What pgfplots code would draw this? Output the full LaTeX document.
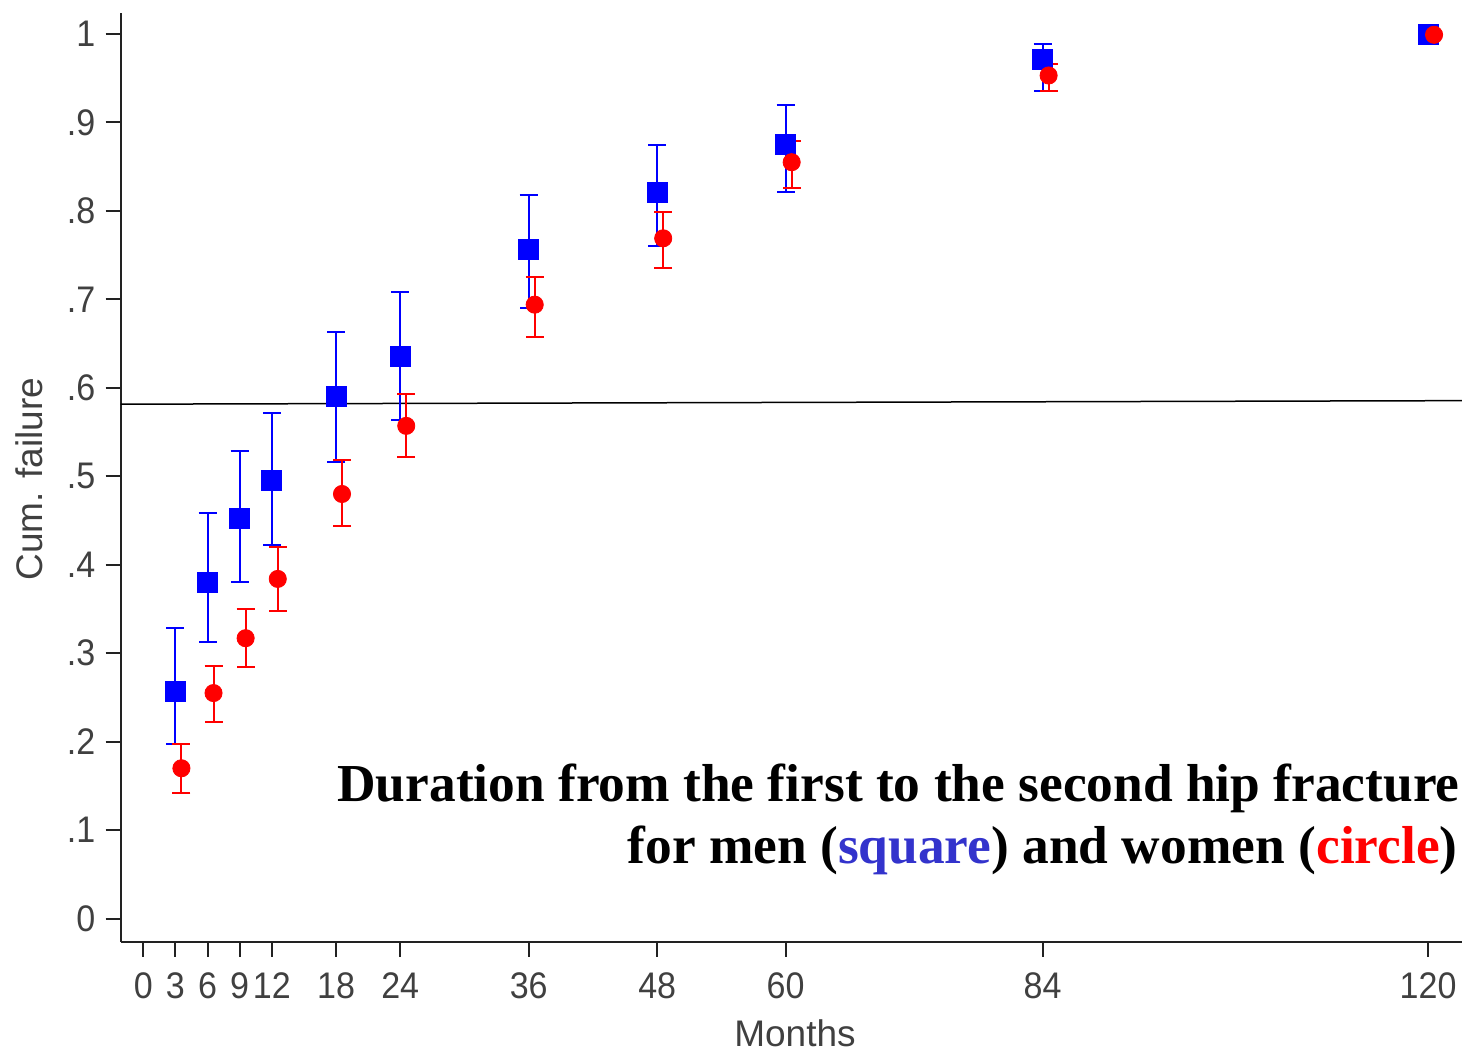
\documentclass[border=0pt]{standalone}
\usepackage{fontspec}
\setmainfont{Liberation Serif}
\newfontfamily\sansf{Liberation Sans}
\newfontfamily\sansn[FakeStretch=0.92]{Liberation Sans}
\usepackage{pgfplots}
\usepackage{pgfplotstable}
\pgfplotsset{compat=1.18}

\definecolor{sqblue}{RGB}{0,0,255}
\definecolor{cired}{RGB}{255,0,0}
\definecolor{txtblue}{RGB}{51,51,204}
\definecolor{axgray}{RGB}{34,34,34}

% men (squares): month, cum. failure, lower and upper limit
\pgfplotstableread{
x y lo hi
3 0.257 0.197 0.329
6 0.380 0.313 0.459
9 0.452 0.380 0.529
12 0.495 0.422 0.572
18 0.590 0.516 0.663
24 0.636 0.564 0.708
36 0.757 0.690 0.818
48 0.821 0.760 0.875
60 0.875 0.821 0.920
84 0.971 0.936 0.989
120 1.000 1.000 1.000
}\men

% women (circles), drawn a little to the right of the month
\pgfplotstableread{
x y lo hi
3.56 0.170 0.142 0.197
6.56 0.255 0.222 0.286
9.56 0.317 0.284 0.350
12.56 0.384 0.348 0.420
18.56 0.480 0.444 0.518
24.56 0.557 0.522 0.593
36.56 0.694 0.658 0.725
48.56 0.769 0.735 0.799
60.56 0.855 0.826 0.879
84.56 0.953 0.936 0.966
120.56 0.999 0.999 0.999
}\women

\newcommand{\tickfont}{\sansn\fontsize{18.5}{22}\selectfont}
\newcommand{\labfont}{\sansf\fontsize{18.5}{22}\selectfont}

\begin{document}
\begin{tikzpicture}
\path[use as bounding box] (-60.35pt,-55.15pt) rectangle (670.65pt,470.85pt);
\begin{axis}[
    at={(0,0)}, anchor=south west,
    scale only axis,
    width=670.65pt, height=464.5pt,
    xmin=-2.11, xmax=123.17,
    ymin=-0.026, ymax=1.024,
    axis x line*=bottom, axis y line*=left,
    axis line style={axgray, line width=1pt},
    tick style={axgray, line width=1pt},
    tick align=outside,
    major tick length=7.5pt,
    xtick={0,3,6,9,12,18,24,36,48,60,84,120},
    xticklabels={0,3,6,9,12,18,24,36,48,60,84,120},
    ytick={0,0.1,0.2,0.3,0.4,0.5,0.6,0.7,0.8,0.9,1},
    yticklabels={0,.1,.2,.3,.4,.5,.6,.7,.8,.9,1},
    ticklabel style={font=\tickfont, text=black!75, inner sep=0pt},
    xticklabel style={anchor=north, yshift=-8pt},
    yticklabel style={anchor=east, xshift=-5pt},
    xlabel={Months},
    ylabel={Cum. failure},
    label style={font=\labfont, text=black!75, inner sep=0pt},
    xlabel style={at={([xshift=1.8pt,yshift=-52.3pt]axis description cs:0.5,0)}, anchor=base},
    ylabel style={at={([xshift=-38.9pt,yshift=-1pt]axis description cs:0,0.5)}, anchor=base},
    clip=false,
]
\addplot[black, line width=0.75pt, no marks] coordinates {(-2.11,0.5815) (123.17,0.5855)};

\addplot[only marks, sqblue, mark=square*, mark size=5pt,
    mark options={draw=none, fill=sqblue},
    error bars/.cd, y dir=both, y explicit,
    error bar style={line width=1pt, sqblue},
    error mark options={rotate=90, line width=1pt, mark size=4.5pt, sqblue}]
    table[x=x, y=y, y error plus expr=\thisrow{hi}-\thisrow{y},
          y error minus expr=\thisrow{y}-\thisrow{lo}] {\men};

\addplot[only marks, cired, mark=*, mark size=4.3pt,
    mark options={draw=none, fill=cired},
    error bars/.cd, y dir=both, y explicit,
    error bar style={line width=1pt, cired},
    error mark options={rotate=90, line width=1pt, mark size=4.5pt, cired}]
    table[x=x, y=y, y error plus expr=\thisrow{hi}-\thisrow{y},
          y error minus expr=\thisrow{y}-\thisrow{lo}] {\women};

\node[anchor=base east, inner sep=0pt, font=\bfseries\fontsize{26.7}{31}\selectfont]
    at ([xshift=-1pt,yshift=70pt]axis description cs:1,0)
    {Duration from the first to the second hip fracture};
\node[anchor=base east, inner sep=0pt, font=\bfseries\fontsize{26.7}{31}\selectfont]
    at ([xshift=-2pt,yshift=38.85pt]axis description cs:1,0)
    {for men (\textcolor{txtblue}{square}) and women (\textcolor{cired}{circle})};
\end{axis}
\end{tikzpicture}
\end{document}
